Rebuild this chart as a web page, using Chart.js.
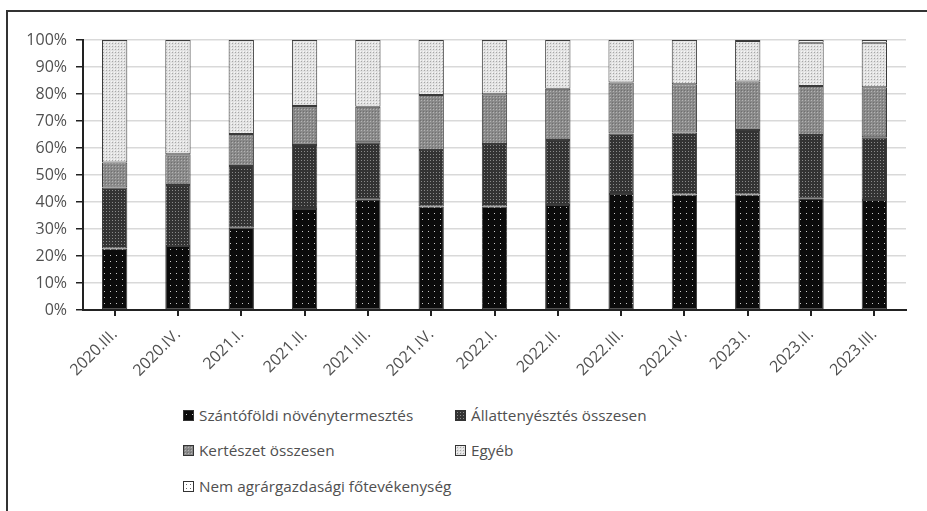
<!DOCTYPE html>
<html>
<head>
<meta charset="utf-8">
<script src="https://cdn.jsdelivr.net/npm/chart.js@4/dist/chart.umd.min.js"></script>
<style>
  html, body { margin: 0; padding: 0; background: #fff; width: 927px; height: 511px; overflow: hidden; font-family: "Open Sans", sans-serif; }
  #frame { position: absolute; left: 6px; top: 10px; width: 925px; height: 505px; border-left: 2px solid #333; border-top: 2px solid #333; }
  #wrap { position: absolute; left: 0; top: 0; width: 927px; height: 400px; }
  .item { position: absolute; display: flex; align-items: center; font-size: 15.3px; color: #505050; white-space: nowrap; line-height: 20px; }
  .item canvas { width: 9px; height: 9px; margin-right: 5px; border: 1px solid #333; }
</style>
</head>
<body>
<div id="frame"></div>
<div id="wrap"><canvas id="chart"></canvas></div>
<div id="legend"></div>
<script>
// Quarters shown on the x axis
const quarters = ['2020.III.', '2020.IV.', '2021.I.', '2021.II.', '2021.III.', '2021.IV.',
                  '2022.I.', '2022.II.', '2022.III.', '2022.IV.', '2023.I.', '2023.II.', '2023.III.'];

// Share of farms by main activity, percent
const szantofoldi = [22.8, 23.7, 30.5, 37.4, 41.0, 38.3, 38.3, 38.9, 43.0, 42.8, 42.8, 41.4, 40.7];
const allattenyesztes = [22.6, 22.6, 22.8, 23.7, 21.1, 21.0, 23.2, 24.1, 22.4, 22.9, 23.9, 23.4, 23.3];
const kerteszet = [9.2, 11.4, 11.9, 14.5, 13.2, 20.3, 18.4, 18.9, 18.9, 17.9, 17.9, 18.2, 18.5];
const egyeb = [45.4, 42.3, 34.8, 24.4, 24.7, 20.4, 20.1, 18.1, 15.7, 16.4, 15.0, 16.0, 16.5];
const nemAgrar = [0, 0, 0, 0, 0, 0, 0, 0, 0, 0, 0.4, 1.0, 1.0];

const seriesNames = ['Szántóföldi növénytermesztés', 'Állattenyésztés összesen', 'Kertészet összesen',
                     'Egyéb', 'Nem agrárgazdasági főtevékenység'];

// Y tick labels
const yTicks = [0, 10, 20, 30, 40, 50, 60, 70, 80, 90, 100];

// Small repeating textures for the monochrome fills
function tile(size, bg, dots) {
  const c = document.createElement('canvas');
  c.width = size; c.height = size;
  const g = c.getContext('2d');
  g.fillStyle = bg; g.fillRect(0, 0, size, size);
  dots.forEach(([x, y, col]) => { g.fillStyle = col; g.fillRect(x, y, 1, 1); });
  return c;
}
const tiles = [
  tile(6, '#0b0b0b', [[2, 3, '#c8c8c8']]),
  tile(3, '#333333', [[1, 1, '#8a8a8a']]),
  tile(3, '#8a8a8a', [[1, 1, '#b4b4b4'], [0, 0, '#707070']]),
  tile(3, '#e2e2e2', [[1, 1, '#a6a6a6'], [0, 0, '#f6f6f6']]),
  tile(4, '#ffffff', [[2, 2, '#6a6a6a']])
];
const ctx = document.getElementById('chart').getContext('2d');
const fills = tiles.map(t => ctx.createPattern(t, 'repeat'));

const seriesValues = [szantofoldi, allattenyesztes, kerteszet, egyeb, nemAgrar];
const tickFont = { family: '"Open Sans", sans-serif', size: 16 };

const chart = new Chart(ctx, {
  type: 'bar',
  data: {
    labels: quarters,
    datasets: seriesValues.map((vals, i) => ({
      label: seriesNames[i],
      data: vals,
      backgroundColor: fills[i],
      borderColor: '#3a3a3a',
      borderWidth: 1,
      borderSkipped: false,
      categoryPercentage: 1.0,
      barPercentage: 0.4
    }))
  },
  options: {
    responsive: true,
    maintainAspectRatio: false,
    animation: false,
    layout: { padding: { left: 0, right: 21, top: 40, bottom: 0 } },
    plugins: { legend: { display: false }, tooltip: { enabled: false } },
    scales: {
      x: {
        stacked: true,
        grid: { display: true, drawOnChartArea: false, drawTicks: true, tickLength: 6, tickColor: '#222', offset: false, lineWidth: 2 },
        border: { color: '#222', width: 2 },
        ticks: { color: '#505050', font: tickFont, maxRotation: 45, minRotation: 45, padding: 9 },
        afterFit: s => { s.height = 90; }
      },
      y: {
        stacked: true,
        min: 0, max: 100,
        afterBuildTicks: s => { s.ticks = yTicks.map(v => ({ value: v })); },
        grid: { color: '#d9d9d9', lineWidth: 1.5, tickLength: 7, tickColor: '#222' },
        border: { color: '#222', width: 2 },
        ticks: { color: '#505050', font: tickFont, padding: 9, callback: v => v + '%' },
        afterFit: s => { s.width = 83; }
      }
    }
  }
});

// Legend in two columns below the chart
const legendSpots = [[183, 405], [455, 405], [183, 440], [455, 440], [183, 476]];
const legend = document.getElementById('legend');
chart.data.datasets.forEach((ds, i) => {
  const item = document.createElement('div');
  item.className = 'item';
  item.style.left = legendSpots[i][0] + 'px';
  item.style.top = legendSpots[i][1] + 'px';
  const sw = document.createElement('canvas');
  sw.width = 9; sw.height = 9;
  const sg = sw.getContext('2d');
  sg.fillStyle = sg.createPattern(tiles[i], 'repeat');
  sg.fillRect(0, 0, 9, 9);
  item.appendChild(sw);
  const tx = document.createElement('span');
  tx.textContent = ds.label;
  item.appendChild(tx);
  legend.appendChild(item);
});
</script>
</body>
</html>
